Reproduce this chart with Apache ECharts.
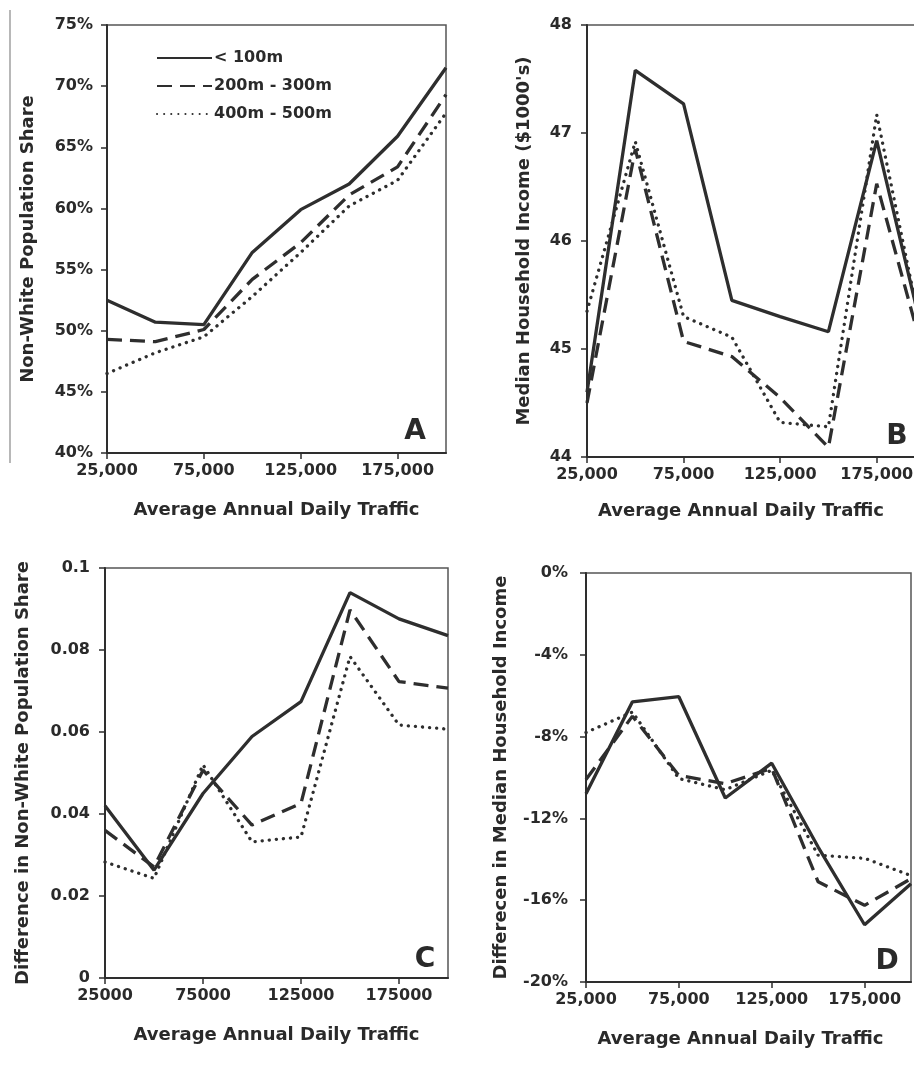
<!DOCTYPE html>
<html>
<head>
<meta charset="utf-8">
<script src="https://cdn.jsdelivr.net/npm/echarts@6/dist/echarts.min.js"></script>
<style>
html,body{margin:0;padding:0;background:#fff;}
#chart{width:914px;height:1070px;}
</style>
</head>
<body>
<div id="chart"></div>
<script>
// ---- data ----
const xValues = [25000, 50000, 75000, 100000, 125000, 150000, 175000, 200000];
const seriesNames = ['< 100m', '200m - 300m', '400m - 500m'];

// Panel A: Non-White Population Share (%)
const shareNear = [52.5, 50.7, 50.5, 56.4, 59.9, 62.0, 65.9, 71.5];
const shareMid  = [49.3, 49.1, 50.1, 54.2, 57.2, 61.1, 63.4, 69.3];
const shareFar  = [46.5, 48.2, 49.5, 52.8, 56.4, 60.2, 62.3, 67.8];

// Panel B: Median Household Income ($1000's)
const incomeNear = [44.6, 47.58, 47.27, 45.45, 45.3, 45.16, 46.93, 45.05];
const incomeMid  = [44.5, 46.85, 45.07, 44.93, 44.55, 44.09, 46.53, 44.9];
const incomeFar  = [45.35, 46.92, 45.3, 45.11, 44.32, 44.28, 47.17, 45.0];

// Panel C: Difference in Non-White Population Share
const diffNear = [0.042, 0.0263, 0.045, 0.0589, 0.0674, 0.094, 0.0876, 0.0835];
const diffMid  = [0.036, 0.0271, 0.0507, 0.0373, 0.0426, 0.0898, 0.0723, 0.0707];
const diffFar  = [0.0283, 0.0243, 0.052, 0.0332, 0.0344, 0.0784, 0.0617, 0.0607];

// Panel D: Difference in Median Household Income (%)
const gapNear = [-10.8, -6.3, -6.05, -11.0, -9.3, -13.4, -17.2, -15.2];
const gapMid  = [-10.1, -7.0, -9.9, -10.3, -9.55, -15.1, -16.25, -14.95];
const gapFar  = [-7.8, -6.8, -10.05, -10.6, -9.65, -13.8, -13.95, -14.8];

// tick labels
const xTicksComma = v => v.toLocaleString('en-US');
const xTicksPlain = v => String(v);
const pctLabel = v => Math.round(v) + '%';

// ---- styling ----
const INK = '#2e2e2e';
const FONT = 'DejaVu Sans';
const tickText = {color: '#2a2a2a', fontFamily: FONT, fontWeight: 'bold', fontSize: 16};
const nameText = {color: '#2a2a2a', fontFamily: FONT, fontWeight: 'bold', fontSize: 18};
const lineTypes = ['solid', [15, 8], [0.1, 7]];

const grids = [
  {left: 107, top: 25, width: 339, height: 428},
  {left: 587, top: 25, width: 338, height: 432},
  {left: 105, top: 568, width: 343, height: 410},
  {left: 586, top: 573, width: 325, height: 409}
].map(g => Object.assign(g, {show: true, borderColor: '#555', borderWidth: 1.5, backgroundColor: 'transparent', containLabel: false, outerBoundsMode: 'none'}));

function xAxis(gi, fmt, nameGap, namePad) {
  return {
    type: 'value', gridIndex: gi, min: 25000, max: 200000, interval: 50000,
    name: 'Average Annual Daily Traffic', nameLocation: 'middle', nameGap: nameGap,
    nameTextStyle: Object.assign({}, nameText, namePad ? {padding: namePad} : {}),
    axisLine: {show: true, onZero: false, lineStyle: {color: INK, width: 2}},
    axisTick: {show: true, length: 6, lineStyle: {color: INK, width: 1.5}},
    axisLabel: Object.assign({formatter: fmt, margin: 10, showMaxLabel: false}, tickText),
    splitLine: {show: false}
  };
}
function yAxis(gi, name, min, max, interval, fmt, nameGap, margin) {
  return {
    type: 'value', gridIndex: gi, min: min, max: max, interval: interval,
    name: name, nameLocation: 'middle', nameGap: nameGap, nameTextStyle: nameText,
    axisLine: {show: true, onZero: false, lineStyle: {color: INK, width: 2}},
    axisTick: {show: true, length: 6, lineStyle: {color: INK, width: 1.5}},
    axisLabel: Object.assign({formatter: fmt, margin: margin}, tickText),
    splitLine: {show: false}
  };
}

function panelSeries(gi, arrays) {
  return arrays.map((arr, i) => ({
    name: seriesNames[i], type: 'line', xAxisIndex: gi, yAxisIndex: gi,
    data: xValues.map((x, k) => [x, arr[k]]),
    symbol: 'none', showSymbol: false, silent: true, clip: true,
    lineStyle: {color: INK, width: 3.3, type: lineTypes[i], cap: i === 2 ? 'round' : 'butt'},
    itemStyle: {color: INK},
    z: 3 - i
  }));
}

const letterStyle = {fill: '#2a2a2a', font: 'bold 28px "DejaVu Sans"', textAlign: 'center', textVerticalAlign: 'middle'};

const option = {
  backgroundColor: '#fff',
  animation: false,
  grid: grids,
  legend: {
    left: 151, top: 43, orient: 'vertical', itemWidth: 55, itemHeight: 14, itemGap: 8,
    data: seriesNames,
    itemStyle: {opacity: 0},
    textStyle: Object.assign({lineHeight: 20, padding: [0, 0, 0, -3]}, tickText),
    selectedMode: false
  },
  xAxis: [
    xAxis(0, xTicksComma, 48),
    xAxis(1, xTicksComma, 45, [0, 30, 0, 0]),
    xAxis(2, xTicksPlain, 48),
    xAxis(3, xTicksComma, 48, [0, 16, 0, 0])
  ],
  yAxis: [
    yAxis(0, 'Non-White Population Share', 40, 75, 5, pctLabel, 70, 14),
    yAxis(1, "Median Household Income ($1000's)", 44, 48, 1, v => String(v), 54, 15),
    yAxis(2, 'Difference in Non-White Population Share', 0, 0.1, 0.02, v => String(+v.toFixed(2)), 73, 15),
    yAxis(3, 'Differecen in Median Household Income', -20, 0, 4, pctLabel, 76, 18)
  ],
  series: [].concat(
    panelSeries(0, [shareNear, shareMid, shareFar]),
    panelSeries(1, [incomeNear, incomeMid, incomeFar]),
    panelSeries(2, [diffNear, diffMid, diffFar]),
    panelSeries(3, [gapNear, gapMid, gapFar])
  ),
  graphic: [
    {type: 'line', shape: {x1: 10, y1: 10, x2: 10, y2: 463}, style: {stroke: '#888', lineWidth: 1.2}, silent: true},
    {type: 'text', x: 415, y: 432, style: Object.assign({text: 'A'}, letterStyle), silent: true},
    {type: 'text', x: 897, y: 437, style: Object.assign({text: 'B'}, letterStyle), silent: true},
    {type: 'text', x: 425, y: 960, style: Object.assign({text: 'C'}, letterStyle), silent: true},
    {type: 'text', x: 887, y: 962, style: Object.assign({text: 'D'}, letterStyle), silent: true}
  ]
};

const chart = echarts.init(document.getElementById('chart'), null, {renderer: 'canvas'});
chart.setOption(option);
</script>
</body>
</html>
